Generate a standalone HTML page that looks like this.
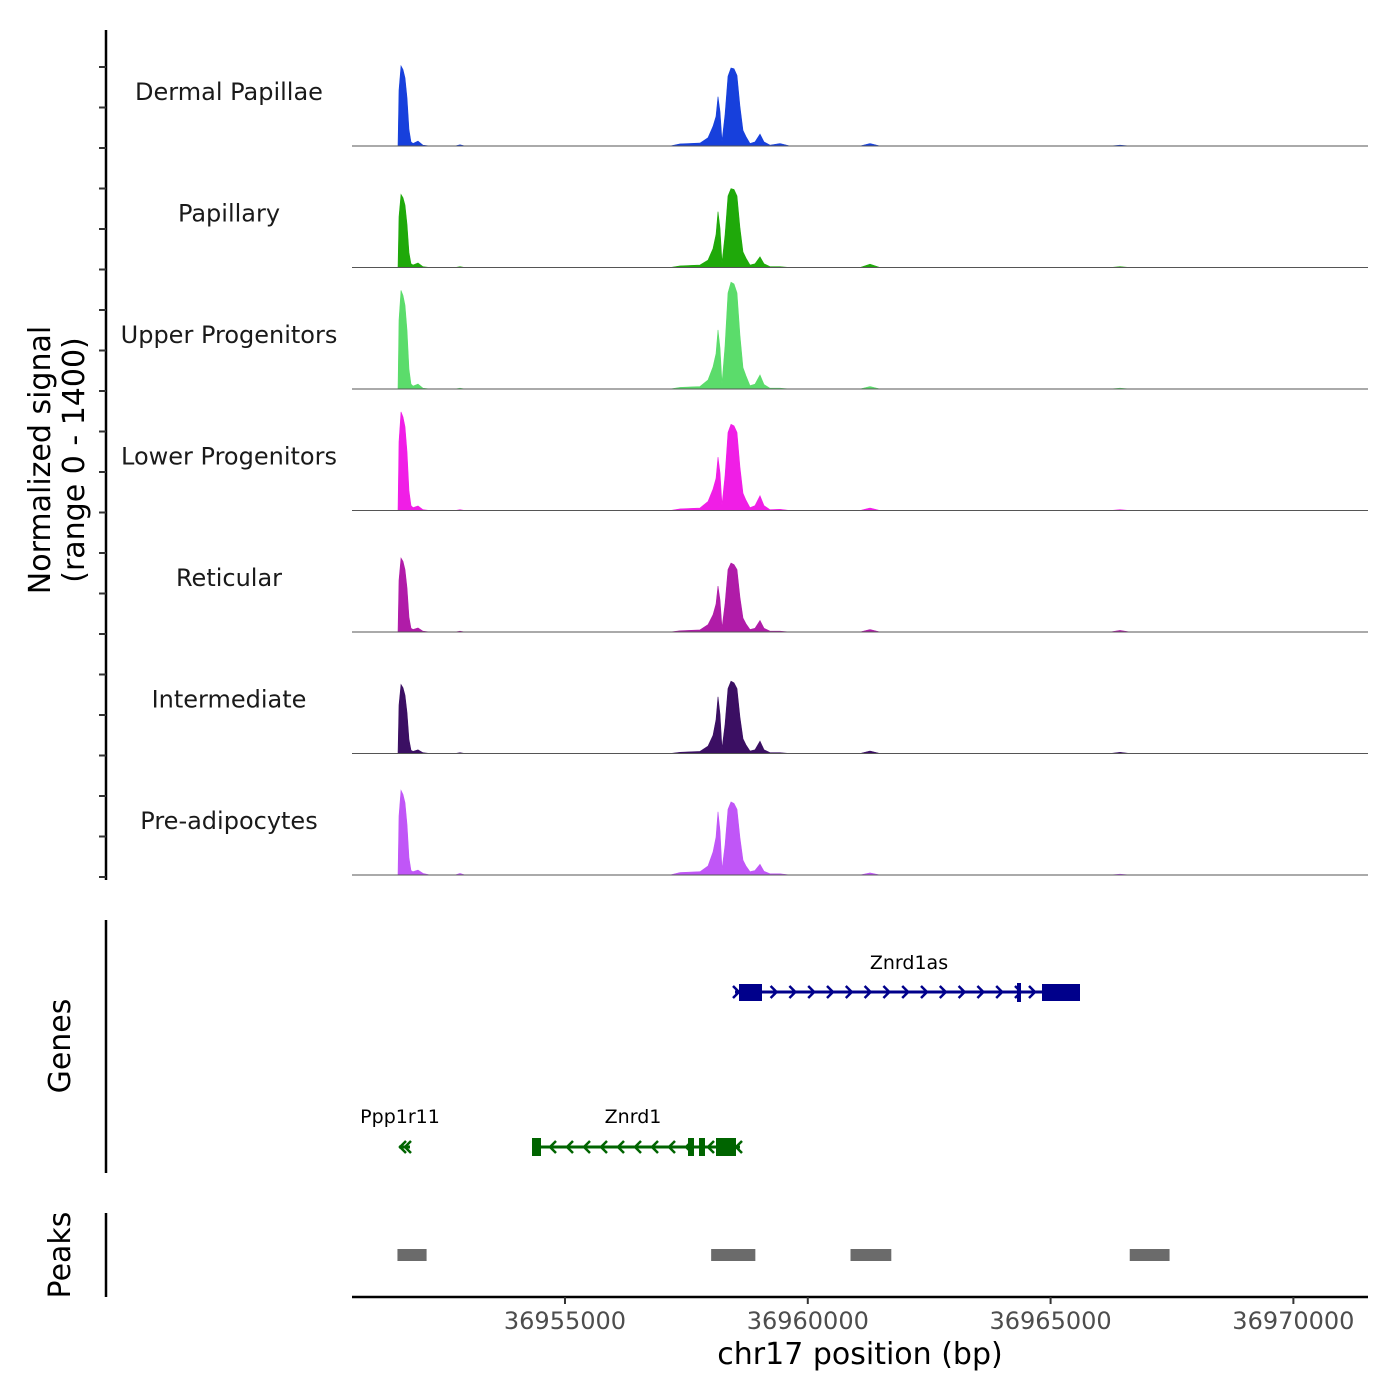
<!DOCTYPE html>
<html><head><meta charset="utf-8"><style>
html,body{margin:0;padding:0;background:#fff;}
svg{display:block;font-family:"DejaVu Sans","Liberation Sans",sans-serif;}
</style></head><body>
<svg id="chart" width="1400" height="1400" viewBox="0 0 1400 1400">
<g id="tracks"></g>
<g id="left"></g>
<g id="genes"></g>
<g id="peaks"></g>
<g id="xaxis"></g>
</svg>
<script>
const positions = [36951561,36951582,36951623,36951664,36951705,36951747,36951788,36951829,36951870,36951973,36952076,36952220,36952735,36952838,36952941,36957163,36957369,36957780,36957945,36958048,36958110,36958151,36958192,36958233,36958295,36958357,36958419,36958480,36958542,36958604,36958666,36958728,36958810,36958913,36959016,36959099,36959222,36959428,36959634,36961075,36961282,36961487,36966224,36966430,36966635];
const trackNames = ["Dermal Papillae","Papillary","Upper Progenitors","Lower Progenitors","Reticular","Intermediate","Pre-adipocytes"];
const trackColors = ["#1740dc","#1fa90a","#5bdc6b","#f01ee6","#b01ca8","#3b0f63","#c056f7"];
const sigDP  = [0,680,975,930,830,590,200,50,30,60,10,0,0,15,0,0,25,35,100,240,360,600,420,60,380,850,950,940,860,480,190,115,30,50,145,50,10,30,0,0,30,0,0,10,0];
const sigPap = [0,620,890,850,760,530,180,45,30,55,10,0,0,10,0,0,20,30,90,230,400,680,480,60,390,870,960,950,870,480,190,115,30,45,130,45,10,10,0,0,40,0,0,10,0];
const sigUP  = [0,840,1200,1140,1020,720,240,60,35,60,10,0,0,10,0,0,20,30,110,270,430,720,500,70,520,1170,1300,1280,1170,650,260,160,40,60,170,55,10,10,0,0,30,0,0,10,0];
const sigLP  = [0,840,1200,1140,1020,720,240,60,35,55,10,0,0,10,0,0,20,30,110,260,390,650,460,70,420,950,1050,1030,950,525,210,125,35,60,180,60,10,15,0,0,30,0,0,10,0];
const sigRet = [0,630,900,860,760,540,180,45,30,50,10,0,0,10,0,0,15,25,90,210,340,560,390,50,340,760,840,820,760,420,170,100,30,45,140,45,10,10,0,0,30,0,0,20,0];
const sigInt = [0,590,840,800,710,500,170,40,25,45,10,0,0,10,0,0,15,25,90,220,410,690,480,60,350,790,880,860,790,440,180,105,30,45,150,45,10,10,0,0,30,0,0,15,0];
const sigPre = [0,720,1030,980,880,620,210,55,40,60,20,0,0,20,0,0,30,40,110,280,460,770,540,70,360,800,890,870,800,450,180,110,40,55,130,45,15,15,0,0,25,0,0,10,0];
const xTicks = [36955000,36960000,36965000,36970000];
const peakStarts = [36951550,36958010,36960880,36966630];
const peakEnds   = [36952150,36958920,36961720,36967450];

const NS="http://www.w3.org/2000/svg";
const X0=36950614, PX=0.04856, LEFT=352, RIGHT=1368;
const xs = bp => LEFT + (bp - X0)*PX;
const TRACK_H=121.5, BASE0=146, YMAX=1400, SIG_H=115;
function mk(tag, attrs, parent){const e=document.createElementNS(NS,tag);for(const k in attrs)e.setAttribute(k,attrs[k]);parent.appendChild(e);return e;}

const series=[sigDP,sigPap,sigUP,sigLP,sigRet,sigInt,sigPre];
const tracks=document.getElementById('tracks');
series.forEach((vals,i)=>{
  const base=BASE0+i*TRACK_H;
  const ys=v=>base - v/YMAX*SIG_H;
  let d=`M${LEFT},${base}`;
  vals.forEach((v,j)=>{d+=` L${xs(positions[j]).toFixed(1)},${ys(v).toFixed(1)}`;});
  d+=` L${xs(positions[positions.length-1])+10},${base} Z`;
  const p=mk('path',{d:d,fill:trackColors[i],stroke:trackColors[i],'stroke-width':0.6},tracks);
  
  
  const l=mk('line',{x1:LEFT,x2:RIGHT,y1:base,y2:base,stroke:'#555','stroke-width':1},tracks);
  
  
  const t=mk('text',{x:229,y:base-54+8,'text-anchor':'middle','font-size':24,fill:'#1a1a1a'},tracks);
  t.textContent=trackNames[i];
  
  
});

const left=document.getElementById('left');
mk('line',{x1:106,x2:106,y1:30,y2:880,stroke:'#000','stroke-width':2.5},left);
for(let y=67;y<=880;y+=40.5){mk('line',{x1:99,x2:106,y1:y,y2:y,stroke:'#333','stroke-width':2},left);}
const yt=mk('text',{transform:'translate(54,460) rotate(-90)','text-anchor':'middle','font-size':30,fill:'#000'},left);


const t1=mk('tspan',{x:0,dy:-4},yt);t1.textContent='Normalized signal';
const t2=mk('tspan',{x:0,dy:34},yt);t2.textContent='(range 0 - 1400)';

const genes=document.getElementById('genes');
mk('line',{x1:106,x2:106,y1:920,y2:1173,stroke:'#000','stroke-width':2.5},genes);
const gt=mk('text',{transform:'translate(70,1046) rotate(-90)','text-anchor':'middle','font-size':30},genes);gt.textContent='Genes';


function chev(g,x,y,dir,col){mk('path',{d:`M${x-3*dir},${y-6} L${x+3*dir},${y} L${x-3*dir},${y+6}`,fill:'none',stroke:col,'stroke-width':2.5},g);}
const B='#00008b';
mk('line',{x1:735,x2:1080,y1:992,y2:992,stroke:B,'stroke-width':3},genes);
mk('rect',{x:739,y:984,width:23,height:17,fill:B},genes);
mk('rect',{x:1017,y:983,width:4,height:19,fill:B},genes);
mk('rect',{x:1042,y:984,width:38,height:17,fill:B},genes);
for(let x=736;x<1030;x+=18.8){ if(x>739&&x<764)continue; chev(genes,x,992,1,B);} chev(genes,1032,992,1,B);
const l1=mk('text',{x:909,y:969,'text-anchor':'middle','font-size':19},genes);l1.textContent='Znrd1as';
const G='#006400';
mk('line',{x1:533,x2:740,y1:1147,y2:1147,stroke:G,'stroke-width':3},genes);
mk('rect',{x:532,y:1138,width:9,height:18,fill:G},genes);
mk('rect',{x:688,y:1138,width:6,height:18,fill:G},genes);
mk('rect',{x:699,y:1138,width:6,height:18,fill:G},genes);
mk('rect',{x:716,y:1138,width:20,height:18,fill:G},genes);
for(let x=553;x<690;x+=17){chev(genes,x,1147,-1,G);} chev(genes,739,1147,-1,G); chev(genes,711,1147,-1,G);
const l2=mk('text',{x:633,y:1123,'text-anchor':'middle','font-size':19},genes);l2.textContent='Znrd1';
mk('line',{x1:399,x2:410,y1:1147,y2:1147,stroke:G,'stroke-width':3},genes);
chev(genes,403,1147,-1,G);chev(genes,408,1147,-1,G);
const l3=mk('text',{x:400,y:1123,'text-anchor':'middle','font-size':19},genes);l3.textContent='Ppp1r11';

const peaks=document.getElementById('peaks');
mk('line',{x1:106,x2:106,y1:1213,y2:1297,stroke:'#000','stroke-width':2.5},peaks);
const pt=mk('text',{transform:'translate(70,1255) rotate(-90)','text-anchor':'middle','font-size':30},peaks);pt.textContent='Peaks';


peakStarts.forEach((s,i)=>{
  const r=mk('rect',{x:xs(s),y:1249,width:xs(peakEnds[i])-xs(s),height:12,fill:'#6b6b6b'},peaks);
  
  
});

const xa=document.getElementById('xaxis');
mk('line',{x1:LEFT,x2:RIGHT,y1:1297,y2:1297,stroke:'#000','stroke-width':2.5},xa);
xTicks.forEach(v=>{
  const x=xs(v);
  mk('line',{x1:x,x2:x,y1:1297,y2:1304,stroke:'#333','stroke-width':2},xa);
  const t=mk('text',{x:x,y:1329,'text-anchor':'middle','font-size':24,fill:'#4d4d4d'},xa);
  t.textContent=v;
  
  
});
const xt=mk('text',{x:860,y:1364,'text-anchor':'middle','font-size':30},xa);xt.textContent='chr17 position (bp)';


</script>
</body></html>
